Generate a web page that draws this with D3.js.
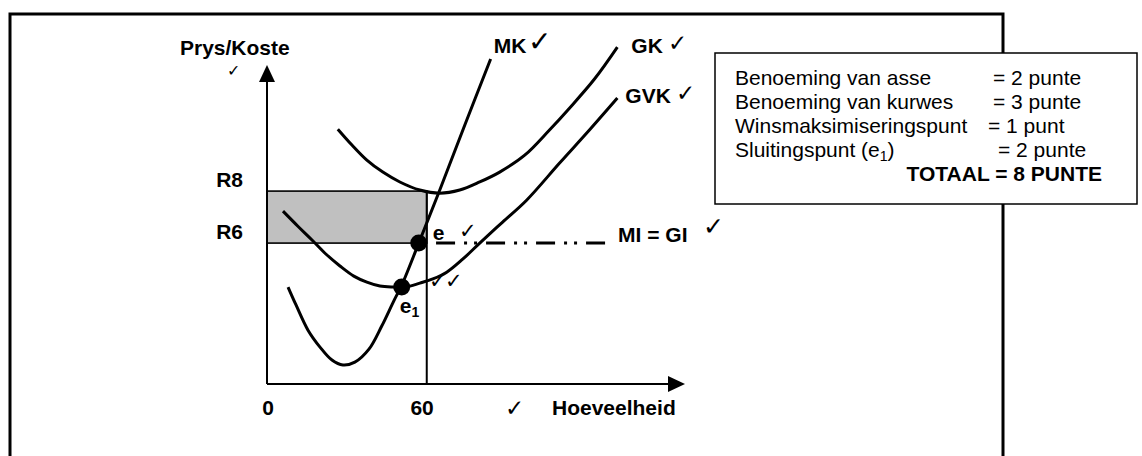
<!DOCTYPE html>
<html>
<head>
<meta charset="utf-8">
<script src="https://cdn.jsdelivr.net/npm/d3@7"></script>
<style>
  html, body { margin: 0; padding: 0; background: #fff; }
  svg { display: block; font-family: "Liberation Sans", Arial, sans-serif; }
  .chk { font-family: "DejaVu Sans ExtraLight", "DejaVu Sans", sans-serif; font-weight: 200; }
</style>
</head>
<body>
<svg id="chart" width="1142" height="456"></svg>
<script>
// ---------- data (quantity, price) ----------
const mkCurve = [[7.9,4.31],[10.9,3.62],[15.4,2.65],[19.9,2.0],[24.4,1.5],[28.5,1.31],[33.0,1.42],[38.3,1.92],[43.1,2.81],[47.6,3.77],[50.6,4.38],[57.0,6.0],[64.9,8.04],[74.3,10.54],[84.0,13.08]];
const gkCurve = [[26.6,10.38],[31.9,9.77],[37.5,9.19],[43.5,8.73],[49.9,8.35],[57.4,8.04],[64.9,7.92],[72.4,8.04],[79.9,8.35],[87.4,8.73],[96.8,9.38],[106.1,10.35],[113.6,11.19],[123.0,12.31],[131.6,13.54]];
const gvkCurve = [[6.0,7.23],[11.6,6.65],[16.9,6.12],[22.1,5.58],[27.4,5.12],[32.6,4.73],[37.5,4.5],[42.4,4.35],[47.3,4.31],[52.1,4.31],[57.4,4.46],[62.3,4.62],[67.5,4.88],[73.5,5.38],[79.9,6.0],[88.5,6.81],[97.5,7.65],[109.9,9.08],[121.1,10.35],[131.6,11.58]];
const curveNames = ["MK", "GK", "GVK"];
const priceTickLabels = ["R6", "R8"];
const priceTickValues = [6, 8];
const qtyTickLabels = ["0", "60"];
const qtyTickValues = [0, 60];
const profitQty = 60;
const profitPrice = 8;
const miPrice = 6;
const miRange = [63.5, 128.1];
const pointE = [57.0, 6.0];
const pointE1 = [50.6, 4.31];
const boxLabels = ["Benoeming van asse", "Benoeming van kurwes", "Winsmaksimiseringspunt", "Sluitingspunt (e"];
const boxPoints = ["= 2 punte", "= 3 punte", "= 1 punt", "= 2 punte"];
const boxTotal = "TOTAAL = 8 PUNTE";
const CHECK = "\u2713";

// ---------- layout ----------
const svg = d3.select("#chart");
const x = d3.scaleLinear().domain([0, 157]).range([267, 685]);
const y = d3.scaleLinear().domain([0.58, 12.85]).range([384, 65]);
const x0 = x(0), yBase = y.range()[0];

// outer frame
svg.append("path").attr("d", `M10,470 V14 H1003 V470`).attr("fill", "none").attr("stroke", "#000").attr("stroke-width", 3);

// shaded profit rectangle
svg.append("rect")
  .attr("x", x(0)).attr("y", y(profitPrice))
  .attr("width", x(profitQty) - x(0)).attr("height", y(miPrice) - y(profitPrice))
  .attr("fill", "#c0c0c0").attr("stroke", "#000").attr("stroke-width", 1.6);

// vertical line at Q=60
svg.append("line").attr("x1", x(profitQty)).attr("x2", x(profitQty))
  .attr("y1", y(profitPrice)).attr("y2", yBase).attr("stroke", "#000").attr("stroke-width", 2);

// MI = GI dash-dot-dot line
svg.append("line").attr("x1", x(miRange[0])).attr("x2", x(miRange[1]))
  .attr("y1", y(miPrice)).attr("y2", y(miPrice))
  .attr("stroke", "#000").attr("stroke-width", 3)
  .attr("stroke-dasharray", "19,9,3,7,3,9");

// axes
svg.append("line").attr("x1", x0).attr("x2", x0).attr("y1", yBase).attr("y2", y.range()[1] + 14)
  .attr("stroke", "#000").attr("stroke-width", 2);
svg.append("path").attr("d", `M${x0},${y.range()[1]} L${x0-8},${y.range()[1]+17} L${x0+8},${y.range()[1]+17} Z`).attr("fill", "#000");
const xEnd = x.range()[1];
svg.append("line").attr("x1", x0).attr("x2", xEnd - 14).attr("y1", yBase).attr("y2", yBase)
  .attr("stroke", "#000").attr("stroke-width", 2);
svg.append("path").attr("d", `M${xEnd},${yBase} L${xEnd-17},${yBase-8} L${xEnd-17},${yBase+8} Z`).attr("fill", "#000");

// curves
const line = d3.line().x(d => x(d[0])).y(d => y(d[1])).curve(d3.curveCatmullRom.alpha(0.5));
[mkCurve, gkCurve, gvkCurve].forEach(c => {
  svg.append("path").attr("d", line(c)).attr("fill", "none").attr("stroke", "#000").attr("stroke-width", 3).attr("stroke-linecap", "butt");
});

// dots
[pointE, pointE1].forEach(p => {
  svg.append("circle").attr("cx", x(p[0])).attr("cy", y(p[1])).attr("r", 8.5).attr("fill", "#000");
});

function txt(s, xx, yy, opts = {}) {
  const t = svg.append("text").attr("x", xx).attr("y", yy)
    .attr("font-size", opts.size || 21)
    .attr("font-weight", opts.bold === false ? "normal" : "bold")
    .attr("text-anchor", opts.anchor || "start")
    .attr("fill", "#000").text(s);
  if (opts.cls) t.attr("class", opts.cls);
  return t;
}
function chk(xx, yy, size) {
  return txt(CHECK, xx, yy, {bold: false, size: size || 22, cls: "chk"});
}

// curve labels
const mkEnd = mkCurve[mkCurve.length - 1], gkEnd = gkCurve[gkCurve.length - 1], gvkEnd = gvkCurve[gvkCurve.length - 1];
txt(curveNames[0], x(mkEnd[0]) + 3, y(mkEnd[1]) - 6);
chk(x(mkEnd[0]) + 37, y(mkEnd[1]) - 8, 28);
txt(curveNames[1], x(gkEnd[0]) + 14, y(gkEnd[1]) + 6);
chk(x(gkEnd[0]) + 51, y(gkEnd[1]) + 4, 23);
txt(curveNames[2], x(gvkEnd[0]) + 8, y(gvkEnd[1]) + 5);
chk(x(gvkEnd[0]) + 59, y(gvkEnd[1]) + 3, 23);

// MI = GI
txt("MI = GI", x(miRange[1]) + 10, y(miPrice) - 1);
chk(x(miRange[1]) + 95, y(miPrice) - 8, 25);

// e labels
txt("e", x(pointE[0]) + 14, y(pointE[1]) - 3);
chk(x(pointE[0]) + 40, y(pointE[1]) - 5, 21);
chk(x(profitQty) + 2, y(pointE1[1]) + 1, 21);
chk(x(profitQty) + 18, y(pointE1[1]) + 1, 21);
const e1 = txt("e", x(pointE1[0]) - 2, y(pointE1[1]) + 26);
e1.append("tspan").attr("font-size", 14).attr("dy", 4).text("1");

// axis titles
txt("Prys/Koste", 180, 55);
chk(227, 76, 16);
txt("Hoeveelheid", 552, 415);
chk(505, 416, 23);

// ticks
priceTickValues.forEach((v, i) => txt(priceTickLabels[i], x0 - 24, y(v) - 4, {anchor: "end"}));
qtyTickValues.forEach((v, i) => txt(qtyTickLabels[i], x(v) + 7, 415, {anchor: "end"}));

// mark box
svg.append("rect").attr("x", 715).attr("y", 53).attr("width", 422).attr("height", 151)
  .attr("fill", "#fff").attr("stroke", "#000").attr("stroke-width", 1.5);
const rightX = [993, 993, 988, 998];
boxLabels.forEach((s, i) => {
  const t = txt(s, 735, 85 + 24 * i, {bold: false});
  if (i === 3) {
    t.append("tspan").attr("font-size", 14).attr("dy", 4).text("1");
    t.append("tspan").attr("dy", -4).text(")");
  }
  txt(boxPoints[i], rightX[i], 85 + 24 * i, {bold: false});
});
txt(boxTotal, 1102, 181, {anchor: "end"});
</script>
</body>
</html>
